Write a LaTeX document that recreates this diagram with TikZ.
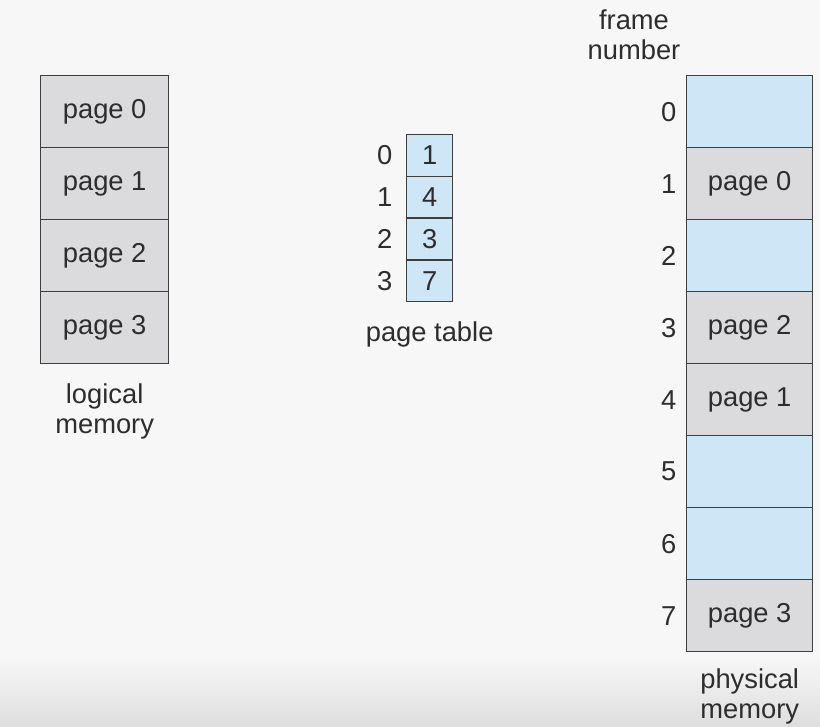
\documentclass[tikz,border=0pt]{standalone}
\usepackage{fontspec}
\setmainfont{Liberation Sans}
\usetikzlibrary{positioning}
\definecolor{pagegray}{RGB}{219,219,221}
\definecolor{frameblue}{RGB}{207,230,247}
\definecolor{edgegray}{RGB}{62,62,62}
\definecolor{inkgray}{RGB}{45,45,45}
\tikzset{
  lbl/.style={font=\fontsize{20.5}{22.5}\selectfont, text=inkgray, inner sep=0pt},
  cell/.style={lbl, draw=edgegray, line width=1pt, anchor=north west},
  logcell/.style={cell, fill=pagegray, minimum width=96pt, minimum height=54pt},
  tabcell/.style={cell, fill=frameblue, minimum width=34.5pt, minimum height=31.3pt},
  physcell/.style={cell, minimum width=94.5pt, minimum height=54pt}
}
\begin{document}
\begin{tikzpicture}[x=0.75pt, y=-0.75pt]
  % background with the fade at the bottom
  \fill[white!97!black] (0,0) rectangle (820,727);
  \shade[top color=white!97!black, bottom color=black!13] (0,655) rectangle (820,727);
  \useasboundingbox (0,0) rectangle (820,727);

  % logical memory
  \foreach \p in {0,...,3}
    \node[logcell] (log\p) at (40,75+72*\p) {page \p};
  \node[lbl, align=center, below=14pt of log3] (logname) {logical\\memory};

  % page table
  \foreach \i/\f in {0/1,1/4,2/3,3/7} {
    \node[tabcell] (tab\i) at (406,134+41.75*\i) {\f};
    \node[lbl, left=10pt of tab\i] (idx\i) {\i};
  }
  \node[lbl, below=14pt of tab3] (tabname) {page table};

  % physical memory
  \foreach \n/\c/\t in {0/frameblue/,1/pagegray/page 0,2/frameblue/,3/pagegray/page 2,
                        4/pagegray/page 1,5/frameblue/,6/frameblue/,7/pagegray/page 3} {
    \node[physcell, fill=\c] (phys\n) at (686,75+72*\n) {\t};
    \node[lbl, left=7pt of phys\n] (frm\n) {\n};
  }
  \node[lbl, align=center, below=12pt of phys7] (physname) {physical\\memory};
  \node[lbl, align=center] (frmname) at (634,35) {frame\\number};
\end{tikzpicture}
\end{document}
